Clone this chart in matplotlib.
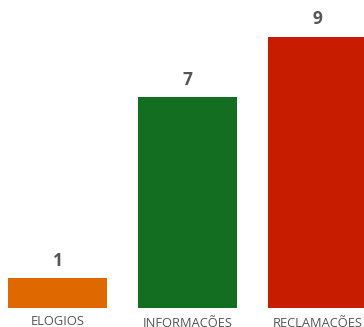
import matplotlib
matplotlib.use("Agg")
import matplotlib.pyplot as plt

categories = ["ELOGIOS", "INFORMAÇÕES", "RECLAMAÇÕES"]
values = [1, 7, 9]
colors = ["#E06800", "#136E22", "#C81C00"]

fig = plt.figure(figsize=(3.64, 3.27), dpi=100)
ax = fig.add_axes([0, 19/327, 1, 308/327])
x = list(range(len(categories)))
bars = ax.bar(x, values, width=0.76, color=colors)
ax.set_xlim(-57.5/130, (364-57.5)/130)
ax.set_ylim(0, 308/30.15)
for xi, v in zip(x, values):
    ax.annotate(str(v), (xi, v), xytext=(0, 6), textcoords="offset points",
                ha="center", va="bottom", fontsize=12.5, fontweight="bold",
                color="#555555", family="Open Sans")
for s in ax.spines.values():
    s.set_visible(False)
ax.set_yticks([])
ax.set_xticks(x)
ax.set_xticklabels(categories, fontsize=9.3, color="#555555", family="Open Sans")
ax.tick_params(axis="x", length=0, pad=5)
fig.savefig("out.png", dpi=100)
